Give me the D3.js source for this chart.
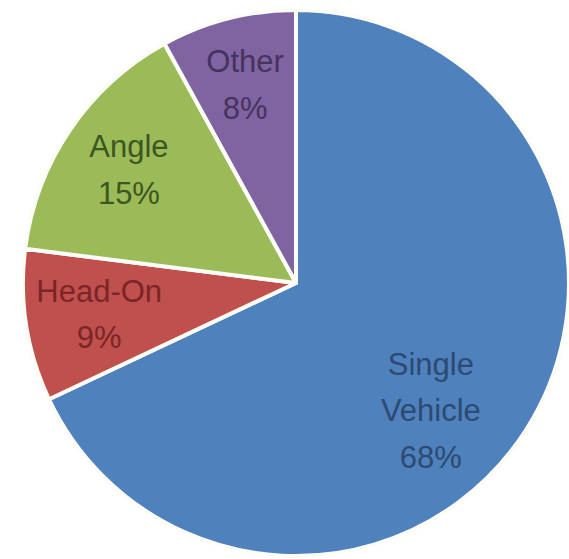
<!DOCTYPE html>
<html>
<head>
<meta charset="utf-8">
<script src="https://cdn.jsdelivr.net/npm/d3@7"></script>
<style>
  html, body { margin: 0; padding: 0; background: #ffffff; }
  svg { display: block; }
</style>
</head>
<body>
<svg id="chart" width="569" height="559"></svg>
<script>
// Crash types and their share of all crashes (percent)
const categories = ["Single Vehicle", "Head-On", "Angle", "Other"];
const shares = [68, 9, 15, 8];
const labelLines = [["Single", "Vehicle", "68%"], ["Head-On", "9%"], ["Angle", "15%"], ["Other", "8%"]];

// Slice fills and label text colours
const fills = ["#4f81bd", "#c0504d", "#9bbb59", "#8064a2"];
const inks = ["#2c4a72", "#7a2626", "#3e5520", "#45335f"];

// Label placement: distance from centre as a fraction of the radius,
// and a small turn (degrees) away from the slice bisector
const labelRadius = [0.68, 0.73, 0.74, 0.75];
const labelTurn = [11, 0, 0, 0];

const svg = d3.select("#chart");
const cx = 296, cy = 283, r = 273;
const g = svg.append("g").attr("transform", `translate(${cx},${cy})`);

const pie = d3.pie().sort(null).value(d => d)
  .startAngle(0).endAngle(2 * Math.PI);
const arcs = pie(shares);
const arc = d3.arc().innerRadius(0).outerRadius(r);

g.selectAll("path.slice")
  .data(arcs)
  .join("path")
  .attr("class", "slice")
  .attr("d", arc)
  .attr("fill", (d, i) => fills[i])
  .attr("stroke", "#fdfdf8")
  .attr("stroke-width", 4)
  .attr("stroke-linejoin", "round");

const fontSize = 31;
const lineGap = 46.5;

arcs.forEach((d, i) => {
  const mid = (d.startAngle + d.endAngle) / 2 + labelTurn[i] * Math.PI / 180;
  const dist = labelRadius[i] * r;
  const x = Math.sin(mid) * dist;
  const y = -Math.cos(mid) * dist;
  const lines = labelLines[i];
  const n = lines.length;
  const t = g.append("text")
    .attr("text-anchor", "middle")
    .attr("font-family", "'Liberation Sans', Arial, sans-serif")
    .attr("font-size", fontSize)
    .attr("fill", inks[i])
    .attr("aria-label", categories[i]);
  lines.forEach((s, k) => {
    t.append("tspan")
      .attr("x", x)
      .attr("y", y + (k - (n - 1) / 2) * lineGap)
      .attr("dy", "0.35em")
      .text(s);
  });
});
</script>
</body>
</html>
